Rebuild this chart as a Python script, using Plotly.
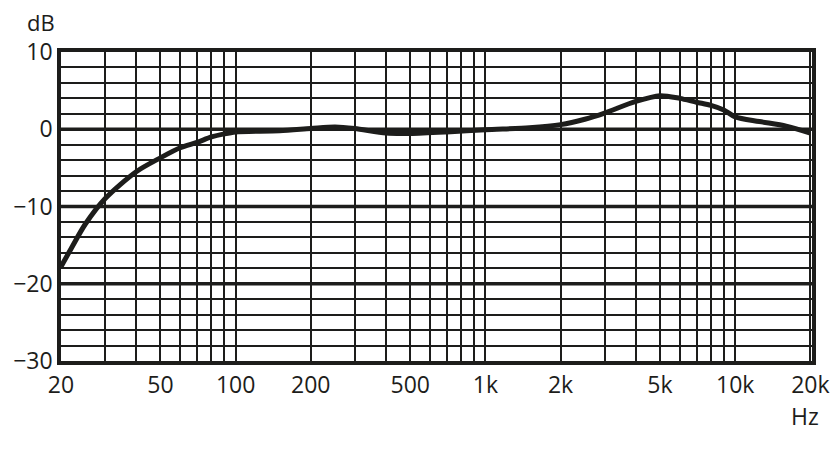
import numpy as np
import plotly.graph_objects as go

# Frequency response data
freq_hz = [20, 22, 25, 30, 40, 50, 60, 70, 80, 90, 100, 150, 200, 250, 300, 400, 500,
           700, 1000, 1500, 2000, 2500, 3000, 4000, 5000, 6000, 7000, 8000, 9000,
           10000, 12500, 16000, 20000]
level_db = [-17.8, -15.4, -12.3, -9.0, -5.5, -3.7, -2.4, -1.7, -1.0, -0.6, -0.35, -0.2,
            0.1, 0.3, 0.1, -0.5, -0.55, -0.35, -0.05, 0.2, 0.6, 1.3, 2.1, 3.6, 4.35,
            4.0, 3.5, 3.1, 2.5, 1.6, 1.0, 0.4, -0.5]

# Grid / tick definitions
x_grid = [20, 30, 40, 50, 60, 70, 80, 90, 100, 200, 300, 400, 500, 600, 700, 800, 900,
          1000, 2000, 3000, 4000, 5000, 6000, 7000, 8000, 9000, 10000, 20000]
x_labels = {20: "20", 50: "50", 100: "100", 200: "200", 500: "500", 1000: "1k",
            2000: "2k", 5000: "5k", 10000: "10k", 20000: "20k"}
y_grid = list(range(-30, 11, 2))
y_labels = {10: "10", 0: "0", -10: "\u221210", -20: "\u221220", -30: "\u221230"}
y_major = [0, -10, -20]

INK = "#1d1d1b"
FONT = "Open Sans"

fig = go.Figure()
fig.add_trace(go.Scatter(
    x=freq_hz, y=level_db, mode="lines",
    line=dict(color=INK, width=5, shape="spline", smoothing=0.8),
    hoverinfo="skip", showlegend=False,
))

for yv in y_major:
    fig.add_shape(type="line", xref="paper", x0=0, x1=1, yref="y", y0=yv, y1=yv,
                  line=dict(color=INK, width=3.5), layer="between")

fig.update_xaxes(
    type="log", range=[np.log10(20), np.log10(20300)],
    tickvals=x_grid, ticktext=[x_labels.get(v, "") for v in x_grid],
    showgrid=True, gridcolor=INK, gridwidth=2,
    showline=True, linecolor=INK, linewidth=3.5, mirror=True,
    ticks="", zeroline=False, tickangle=0, automargin=False,
    tickfont=dict(family=FONT, size=23, color=INK),
    ticklabelstandoff=1,
)
fig.update_yaxes(
    range=[-30, 10],
    tickvals=y_grid, ticktext=[y_labels.get(v, "") for v in y_grid],
    showgrid=True, gridcolor=INK, gridwidth=2,
    showline=True, linecolor=INK, linewidth=3.5, mirror=True,
    ticks="", zeroline=False, automargin=False,
    tickfont=dict(family=FONT, size=23, color=INK),
    ticklabelstandoff=0,
)

fig.add_annotation(text="dB", xref="paper", yref="paper", x=-0.026, y=1.0, yshift=30,
                   showarrow=False, xanchor="center", yanchor="middle",
                   font=dict(family=FONT, size=22, color=INK))
fig.add_annotation(text="Hz", xref="paper", yref="paper", x=0.991, y=0.0, yshift=-55,
                   showarrow=False, xanchor="center", yanchor="middle",
                   font=dict(family=FONT, size=23, color=INK))

# page body has an 8px margin: shrink the figure so it fits the 840x460 window
fig.update_layout(
    width=832, height=452,
    margin=dict(l=53, r=28, t=44, b=99, autoexpand=False),
    plot_bgcolor="white", paper_bgcolor="white",
    showlegend=False,
)

fig.write_html("out.html")
